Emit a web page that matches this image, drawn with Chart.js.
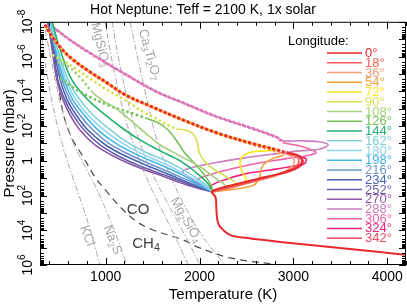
<!DOCTYPE html>
<html>
<head>
<meta charset="utf-8">
<script src="https://cdn.jsdelivr.net/npm/chart.js@4.4.1/dist/chart.umd.min.js"></script>
<style>
  html, body { margin: 0; padding: 0; background: #fff; }
</style>
</head>
<body>
<canvas id="myChart" width="407" height="306"></canvas>
<script>
const FONT = '"Liberation Sans", Arial, Helvetica, sans-serif';
Chart.defaults.font.family = FONT;

/* longitudes of the profiles (deg) */
const longitudes = [0, 18, 36, 54, 72, 90, 108, 126, 144, 162, 180, 198, 216, 234, 252, 270, 288, 306, 324, 342];

/* temperature (K) along each profile, low pressure first */
const tempK = [
  /*   0 */ [350, 430, 540, 650, 830, 1010, 1210, 1470, 1820, 2190, 2540, 2830, 2940, 3040, 3090, 3080, 3010, 2840, 2620, 2410, 2240, 2130, 2170, 2180, 2190, 2220, 2330, 2510, 2860, 3390, 3920, 4200],
  /*  18 */ [360, 440, 545, 660, 840, 1020, 1215, 1480, 1830, 2195, 2545, 2835, 2930, 3030, 3060, 3020, 2880, 2670, 2430, 2140],
  /*  36 */ [355, 435, 540, 655, 835, 1015, 1210, 1475, 1825, 2190, 2540, 2830, 2910, 2990, 3010, 2970, 2840, 2620, 2410, 2140],
  /*  54 */ [365, 440, 545, 660, 845, 1025, 1220, 1485, 1835, 2200, 2550, 2890, 2800, 2710, 2660, 2640, 2580, 2380, 2140],
  /*  72 */ [350, 430, 540, 650, 830, 1010, 1210, 1470, 1820, 2190, 2540, 2825, 2700, 2560, 2465, 2430, 2455, 2495, 2350, 2140],
  /*  90 */ [430, 565, 695, 855, 1015, 1205, 1365, 1525, 1655, 1770, 1855, 1930, 1975, 1995, 2060, 2165, 2305, 2390, 2270, 2140],
  /* 108 */ [490, 620, 750, 855, 960, 1100, 1260, 1420, 1580, 1790, 2005, 2165, 2270, 2140],
  /* 126 */ [510, 640, 830, 1045, 1260, 1420, 1560, 1665, 1750, 1835, 1950, 2060, 2125, 2140],
  /* 144 */ [430, 515, 640, 810, 995, 1175, 1365, 1580, 1815, 2005, 2110, 2140],
  /* 162 */ [420, 490, 600, 725, 865, 1025, 1205, 1420, 1685, 1900, 2050, 2140],
  /* 180 */ [405, 480, 575, 685, 810, 970, 1155, 1365, 1630, 1855, 2025, 2140],
  /* 198 */ [405, 470, 555, 650, 770, 920, 1100, 1315, 1580, 1815, 2005, 2140],
  /* 216 */ [395, 460, 535, 620, 725, 865, 1045, 1260, 1525, 1770, 1985, 2140],
  /* 234 */ [395, 450, 515, 590, 685, 810, 995, 1205, 1470, 1740, 1965, 2140],
  /* 252 */ [385, 440, 490, 565, 650, 770, 940, 1155, 1420, 1685, 1930, 2140],
  /* 270 */ [385, 430, 480, 545, 620, 725, 885, 1100, 1365, 1630, 1900, 2140],
  /* 288 */ [405, 480, 620, 835, 1185, 1545, 1825, 2185, 2540, 2835, 2890, 3070, 3265, 3370, 3285, 3070, 2805, 2485, 2165, 1900, 1820, 1950, 2080, 2140],
  /* 306 */ [385, 460, 600, 810, 1165, 1525, 1805, 2165, 2515, 2815, 2900, 3070, 3200, 3240, 3135, 2910, 2645, 2380, 2135, 1975, 2060, 2140],
  /* 324 */ [355, 430, 540, 650, 835, 1015, 1205, 1470, 1825, 2185, 2535, 2825, 2945, 3050, 3135, 3115, 2965, 2750, 2485, 2240, 2110, 2140],
  /* 342 */ [350, 430, 535, 650, 830, 1010, 1205, 1470, 1820, 2185, 2535, 2825, 2955, 3050, 3105, 3070, 2945, 2730, 2495, 2285, 2140]
];

/* pressure (mbar) matching each temperature above */
const presMbar = [
  /*   0 */ [1.5e-8, 7.3e-8, 4.1e-7, 1.5e-6, 7.6e-6, 3.2e-5, 1.6e-4, 6.9e-4, 4.4e-3, 0.025, 0.093, 0.24, 0.35, 0.46, 0.78, 1.5, 2.9, 5.7, 11, 21, 36, 62, 120, 680, 2600, 6400, 1.9e4, 2.8e4, 4.7e4, 9.1e4, 1.8e5, 2.6e5],
  /*  18 */ [1.6e-8, 7.8e-8, 4.3e-7, 1.6e-6, 8e-6, 3.4e-5, 1.7e-4, 7.2e-4, 4.6e-3, 0.026, 0.097, 0.25, 0.35, 0.52, 1.0, 2.2, 5.0, 11, 25, 62],
  /*  36 */ [1.5e-8, 7.5e-8, 4.2e-7, 1.5e-6, 7.8e-6, 3.3e-5, 1.6e-4, 7e-4, 4.5e-3, 0.026, 0.095, 0.25, 0.40, 0.60, 1.2, 2.6, 6.5, 14, 28, 62],
  /*  54 */ [1.7e-8, 8.4e-8, 4.7e-7, 1.8e-6, 8.7e-6, 3.7e-5, 1.8e-4, 7.9e-4, 5e-3, 0.028, 0.11, 0.46, 0.68, 1.2, 2.6, 8.5, 25, 42, 62],
  /*  72 */ [1.5e-8, 7.3e-8, 4.1e-7, 1.5e-6, 7.6e-6, 3.2e-5, 1.6e-4, 6.9e-4, 4.4e-3, 0.025, 0.093, 0.24, 0.27, 0.31, 0.52, 1.3, 4.4, 14, 32, 62],
  /*  90 */ [8e-7, 2e-6, 5.7e-6, 2.2e-5, 8.3e-5, 3.1e-4, 1.2e-3, 3.4e-3, 8.6e-3, 0.015, 0.017, 0.028, 0.081, 0.31, 1.2, 3.4, 9.7, 21, 42, 62],
  /* 108 */ [2e-6, 4.5e-6, 2.2e-5, 1.1e-4, 3.1e-4, 8.9e-4, 4.4e-3, 0.025, 0.12, 0.52, 2.2, 9.7, 28, 62],
  /* 126 */ [1.7e-5, 5.5e-5, 2.1e-4, 6.9e-4, 1.7e-3, 3.4e-3, 6.6e-3, 0.017, 0.063, 0.31, 1.5, 7.4, 28, 62],
  /* 144 */ [1e-8, 4.1e-7, 2.2e-5, 3.1e-4, 2.3e-3, 0.013, 0.063, 0.27, 1.2, 7.4, 28, 62],
  /* 162 */ [1e-8, 4.1e-7, 2.2e-5, 3.1e-4, 2.3e-3, 0.013, 0.071, 0.31, 1.3, 5.7, 21, 62],
  /* 180 */ [1e-8, 4.1e-7, 2.2e-5, 3.1e-4, 2.3e-3, 0.015, 0.081, 0.35, 1.5, 6.5, 21, 62],
  /* 198 */ [1e-8, 4.1e-7, 2.2e-5, 3.1e-4, 2.3e-3, 0.017, 0.093, 0.40, 1.7, 6.5, 25, 62],
  /* 216 */ [1e-8, 4.1e-7, 2.2e-5, 3.1e-4, 2.3e-3, 0.017, 0.11, 0.46, 2.0, 7.4, 25, 62],
  /* 234 */ [1e-8, 4.1e-7, 2.2e-5, 3.1e-4, 2.3e-3, 0.017, 0.12, 0.52, 2.2, 8.5, 28, 62],
  /* 252 */ [1e-8, 4.1e-7, 2.2e-5, 3.1e-4, 2.3e-3, 0.017, 0.12, 0.60, 2.6, 8.5, 28, 62],
  /* 270 */ [1e-8, 4.1e-7, 2.2e-5, 3.1e-4, 2.3e-3, 0.017, 0.12, 0.60, 2.6, 8.5, 28, 62],
  /* 288 */ [1.5e-8, 2.9e-8, 1.1e-7, 6.2e-7, 8.7e-6, 1.1e-4, 4.7e-4, 3e-3, 0.013, 0.048, 0.071, 0.071, 0.081, 0.12, 0.21, 0.27, 0.40, 0.68, 1.3, 2.6, 4.4, 14, 36, 62],
  /* 306 */ [1.3e-8, 2.5e-8, 9.5e-8, 5.4e-7, 7.6e-6, 9.4e-5, 4.1e-4, 2.6e-3, 0.011, 0.042, 0.093, 0.14, 0.24, 0.35, 0.52, 0.78, 1.3, 2.6, 5.7, 13, 32, 62],
  /* 324 */ [1.5e-8, 7.3e-8, 4.1e-7, 1.5e-6, 7.6e-6, 3.2e-5, 1.6e-4, 6.9e-4, 4.4e-3, 0.025, 0.093, 0.24, 0.40, 0.52, 0.78, 1.5, 2.2, 3.4, 5.7, 14, 32, 62],
  /* 342 */ [1.5e-8, 7.3e-8, 4.1e-7, 1.5e-6, 7.6e-6, 3.2e-5, 1.6e-4, 6.9e-4, 4.4e-3, 0.025, 0.093, 0.24, 0.40, 0.60, 1.0, 2.2, 4.4, 8.5, 19, 36, 62]
];

/* how many points at the top of each profile are drawn dotted */
const dottedPts = [13, 13, 13, 12, 12, 10, 4, 6, 0, 0, 0, 0, 0, 0, 0, 0, 11, 11, 13, 13];

/* condensation curves */
const condNames = ['KCl', 'Na2S', 'MgSiO3', 'Mg2SiO4', 'Ca3Ti2O7'];
const condTempK = [
  [320, 385, 470, 555, 640, 750, 835, 910, 940],
  [355, 440, 535, 640, 770, 910, 1025, 1130, 1225],
  [995, 1045, 1110, 1185, 1280, 1400, 1545, 1705, 1880],
  [1070, 1120, 1185, 1260, 1355, 1470, 1630, 1815, 2005],
  [1260, 1345, 1440, 1545, 1685, 1865, 2060, 2270]
];
const condPresMbar = [
  [1.1e-7, 2.2e-5, 4.4e-3, 0.24, 6.5, 350, 9600, 2.6e5, 1e6],
  [2.9e-8, 5.7e-6, 1.2e-3, 0.063, 1.7, 48, 1300, 3.6e4, 1e6],
  [1e-8, 4.1e-7, 2.2e-5, 1.2e-3, 0.063, 3.4, 180, 9600, 1e6],
  [1e-8, 4.1e-7, 2.2e-5, 1.2e-3, 0.063, 2.6, 140, 9600, 1e6],
  [1e-8, 1.5e-6, 3.1e-4, 0.063, 6.5, 680, 3.6e4, 1e6]
];

/* CO = CH4 boundary */
const coTempK = [405, 460, 515, 565, 650, 760, 885, 1015, 1155, 1335, 1505, 1825, 1975, 2325, 2860];
const coPresMbar = [1e-8, 1.5e-6, 2.1e-4, 4.4e-3, 0.063, 0.60, 8.5, 62, 460, 3300, 9600, 3.6e4, 9.1e4, 3.9e5, 1e6];

const xMajor = [1000, 2000, 3000, 4000];
const yMajor = [1e-8, 1e-6, 1e-4, 1e-2, 1, 1e2, 1e4, 1e6];

/* line colours, one per longitude */
const lonColors = ['#e8282d', '#ee5c55', '#f39e78', '#f6a042', '#fde61a', '#d6e050', '#a4d27a', '#74c058', '#1fb06c', '#80d2d8',
                   '#8ed6ef', '#42b6e7', '#6f94cc', '#4a64af', '#6a5daa', '#8c56a3', '#c97fbd', '#f063a6', '#ed2379', '#ef4961'];

/* label anchors for the condensation curves: [name index, T, P, angle] */
const condLabelAt = [[0, 800, 2.1e4, 68], [1, 1070, 3.6e4, 68], [2, 940, 2.1e-7, 76], [3, 1855, 2600, 60], [4, 1465, 7.9e-7, 74]];

/* splits "Mg2SiO4" into pieces, digits as subscripts */
function chem(text) {
      return text.match(/[0-9]+|[^0-9]+/g).map(t => ({ t: t, s: /^[0-9]+$/.test(t) ? 'sub' : '' }));
}

/* draws pieces centred on the origin */
function drawPieces(ctx, pieces, size) {
      let w = 0;
      pieces.forEach(p => {
            ctx.font = (p.s ? size * 0.72 : size) + 'px ' + FONT;
            p.w = ctx.measureText(p.t).width;
            w += p.w;
      });
      let cx = -w / 2;
      ctx.textAlign = 'left';
      ctx.textBaseline = 'middle';
      pieces.forEach(p => {
            ctx.font = (p.s ? size * 0.72 : size) + 'px ' + FONT;
            const dy = p.s === 'sub' ? size * 0.28 : (p.s === 'sup' ? -size * 0.38 : 0);
            ctx.fillText(p.t, cx, dy);
            cx += p.w;
      });
}

function powerLabel(v) {
      const e = Math.round(Math.log10(v));
      if (e === 0) return [{ t: '1', s: '' }];
      return [{ t: '10', s: '' }, { t: String(e), s: 'sup' }];
}

const decor = {
      id: 'decor',
      beforeDatasetsDraw(chart) {
            const { ctx, chartArea: a, scales: { x, y } } = chart;
            ctx.save();
            ctx.beginPath();
            ctx.rect(a.left, a.top, a.right - a.left, a.bottom - a.top);
            ctx.clip();
            ctx.fillStyle = '#a8a8a8';
            condLabelAt.forEach(([k, t, p, ang]) => {
                  ctx.save();
                  ctx.translate(x.getPixelForValue(t), y.getPixelForValue(p));
                  ctx.rotate(ang * Math.PI / 180);
                  drawPieces(ctx, chem(condNames[k]), 13);
                  ctx.restore();
            });
            ctx.fillStyle = '#404040';
            ctx.save();
            ctx.translate(x.getPixelForValue(1345), y.getPixelForValue(680));
            drawPieces(ctx, chem('CO'), 15);
            ctx.restore();
            ctx.save();
            ctx.translate(x.getPixelForValue(1430), y.getPixelForValue(6.2e4));
            drawPieces(ctx, chem('CH4'), 15);
            ctx.restore();
            ctx.restore();
      },
      afterDatasetsDraw(chart) {
            const { ctx, chartArea: a, scales: { x, y } } = chart;
            ctx.save();

            // legend
            ctx.textAlign = 'left';
            ctx.textBaseline = 'middle';
            ctx.font = '13px ' + FONT;
            ctx.fillStyle = '#000';
            ctx.fillText('Longitude:', a.right - 118, a.top + 20);
            longitudes.forEach((lon, i) => {
                  const ly = a.top + 31.3 + i * 9.74;
                  ctx.strokeStyle = lonColors[i];
                  ctx.lineWidth = 1.5;
                  ctx.beginPath();
                  ctx.moveTo(a.right - 79, ly);
                  ctx.lineTo(a.right - 44, ly);
                  ctx.stroke();
                  ctx.fillStyle = lonColors[i];
                  ctx.font = '13px ' + FONT;
                  ctx.fillText(lon + '°', a.right - 41, ly + 0.5);
            });

            // frame
            ctx.strokeStyle = '#000';
            ctx.lineWidth = 1;
            ctx.strokeRect(a.left + 0.5, a.top + 0.5, a.right - a.left - 1, a.bottom - a.top - 1);

            // ticks, pointing inwards on all four sides
            ctx.beginPath();
            for (let v = 400; v <= 4200; v += 200) {
                  const px = Math.round(x.getPixelForValue(v)) + 0.5;
                  const len = v % 1000 === 0 ? 7 : 4;
                  ctx.moveTo(px, a.bottom); ctx.lineTo(px, a.bottom - len);
                  ctx.moveTo(px, a.top); ctx.lineTo(px, a.top + len);
            }
            for (let e = -8; e <= 6; e++) {
                  for (let k = 1; k <= 9; k++) {
                        const v = k * Math.pow(10, e);
                        if (v > 1e6) break;
                        const py = Math.round(y.getPixelForValue(v)) + 0.5;
                        const len = k === 1 ? 7 : 4;
                        ctx.moveTo(a.left, py); ctx.lineTo(a.left + len, py);
                        ctx.moveTo(a.right, py); ctx.lineTo(a.right - len, py);
                  }
            }
            ctx.stroke();

            // y tick labels, rotated
            ctx.fillStyle = '#000';
            yMajor.forEach(v => {
                  ctx.save();
                  ctx.translate(a.left - 12, y.getPixelForValue(v));
                  ctx.rotate(-Math.PI / 2);
                  drawPieces(ctx, powerLabel(v), 14);
                  ctx.restore();
            });

            // axis titles
            ctx.font = '15px ' + FONT;
            ctx.textAlign = 'center';
            ctx.textBaseline = 'middle';
            ctx.fillText('Temperature (K)', (a.left + a.right) / 2, 295);
            ctx.save();
            ctx.translate(10, (a.top + a.bottom) / 2);
            ctx.rotate(-Math.PI / 2);
            ctx.fillText('Pressure (mbar)', 0, 0);
            ctx.restore();

            ctx.restore();
      }
};

const datasets = longitudes.map((lon, i) => ({
      label: lon + '°',
      data: tempK[i].map((t, j) => ({ x: t, y: presMbar[i][j] })),
      showLine: true,
      pointRadius: 0,
      borderColor: lonColors[i],
      borderWidth: i === 0 ? 2 : 1.6,
      tension: 0.35,
      order: 0,
      segment: {
            borderDash: ctx => ctx.p1DataIndex < dottedPts[i] ? [2.5, 2.5] : undefined,
            borderDashOffset: ctx => ctx.p1DataIndex < dottedPts[i] && lon === 72 ? 2.5 : undefined,
            borderWidth: ctx => ctx.p1DataIndex < dottedPts[i] ? 2.6 : undefined
      }
}));

condNames.forEach((name, k) => {
      datasets.push({
            label: name,
            data: condTempK[k].map((t, j) => ({ x: t, y: condPresMbar[k][j] })),
            showLine: true,
            pointRadius: 0,
            borderColor: '#a8a8a8',
            borderWidth: 1,
            borderDash: [6, 2, 1.5, 2],
            tension: 0.35,
            order: 1
      });
});

datasets.push({
      label: 'CO/CH4',
      data: coTempK.map((t, j) => ({ x: t, y: coPresMbar[j] })),
      showLine: true,
      pointRadius: 0,
      borderColor: '#4a4a4a',
      borderWidth: 1.2,
      borderDash: [7, 5],
      tension: 0.35,
      order: 1
});

const chart = new Chart(document.getElementById('myChart'), {
      type: 'scatter',
      data: { datasets: datasets },
      options: {
            responsive: false,
            animation: false,
            devicePixelRatio: 1,
            layout: { padding: { left: 0, right: 1, top: 0, bottom: 0 } },
            plugins: {
                  legend: { display: false },
                  tooltip: { enabled: false },
                  title: {
                        display: true,
                        text: 'Hot Neptune: Teff = 2100 K, 1x solar',
                        color: '#000',
                        font: { size: 14, weight: 'normal' },
                        padding: { top: 2, bottom: 3 }
                  }
            },
            scales: {
                  x: {
                        type: 'linear',
                        min: 300,
                        max: 4200,
                        afterBuildTicks: s => { s.ticks = xMajor.map(v => ({ value: v })); },
                        afterFit: s => { s.height = 41; },
                        ticks: { color: '#000', font: { size: 14 }, padding: 4, maxRotation: 0, callback: v => String(v) },
                        grid: { display: false, drawTicks: false },
                        border: { display: false }
                  },
                  y: {
                        type: 'logarithmic',
                        reverse: true,
                        min: 1e-8,
                        max: 1e6,
                        afterFit: s => { s.width = 40; },
                        ticks: { display: false },
                        grid: { display: false, drawTicks: false },
                        border: { display: false }
                  }
            }
      },
      plugins: [decor]
});
</script>
</body>
</html>
